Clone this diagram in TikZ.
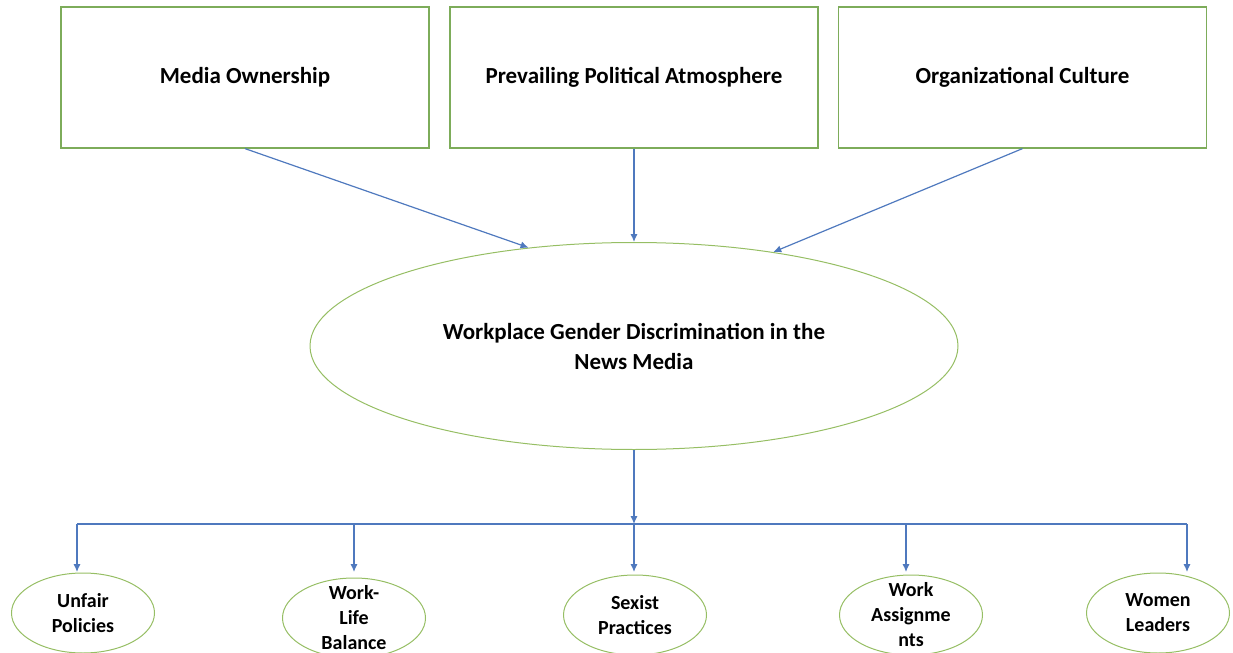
\documentclass[tikz,border=0pt]{standalone}
\usepackage{fontspec}
\setmainfont{Carlito}
\usetikzlibrary{shapes.geometric, arrows.meta}
\definecolor{boxgreen}{RGB}{125,172,90}
\definecolor{ovalgreen}{RGB}{150,190,100}
\definecolor{linkblue}{RGB}{79,121,190}
\tikzset{factor/.style={rectangle, draw=boxgreen, line width=.6pt,
minimum width=184pt, minimum height=70.5pt,
font=\bfseries\fontsize{11.5}{14}\selectfont}}
\tikzset{outcome/.style={ellipse, draw=ovalgreen, line width=.5pt,
minimum width=71.5pt, minimum height=40pt, inner sep=0pt}}
\tikzset{outtext/.style={align=center, font=\bfseries\fontsize{10}{12.5}\selectfont}}
\tikzset{link/.style={draw=linkblue, line width=.6pt, -{Latex[length=4pt, width=3.6pt]}}}
\tikzset{wire/.style={draw=linkblue, line width=.6pt}}

\begin{document}
\begin{tikzpicture}[x=.5pt, y=-.5pt]
\useasboundingbox (0,0) rectangle (1233,653);

\node [factor] (own) at (245, 77.5) {Media Ownership};
\node [factor] (pol) at (634, 77.5) {Prevailing Political Atmosphere};
\node [factor] (org) at (1022.5, 77.5) {Organizational Culture};

\node[ellipse,
draw=ovalgreen,
line width=.5pt,
minimum width=324pt,
minimum height=103.5pt,
align=center,
font=\bfseries\fontsize{11.5}{15}\selectfont] (wgd) at (634, 346) {Workplace Gender Discrimination in the\\News Media};

\draw [link] (own.south) -- (wgd.137);
\draw [link] (pol.south) -- (wgd.north);
\draw [link] (org.south) -- (wgd.34);

\node [outcome, label={[outtext]center:{Unfair\\Policies}}] (unf) at (83, 613) {};
\node [outcome, label={[outtext]center:{Work-\\Life\\Balance}}] (wlb) at (354, 618) {};
\node [outcome, label={[outtext]center:{Sexist\\Practices}}] (sex) at (635, 615) {};
\node [outcome, label={[outtext]center:{Work\\Assignme\\nts}}] (asg) at (911, 615) {};
\node [outcome, label={[outtext]center:{Women\\Leaders}}] (wom) at (1158, 613) {};

\coordinate (bus) at (634, 524);
\coordinate (b1) at (77, 524);
\coordinate (b2) at (354, 524);
\coordinate (b4) at (906, 524);
\coordinate (b5) at (1187, 524);

\draw [link] (wgd.south) -- (bus);
\draw [wire] (b1) -- (b5);

\draw [link] (b1) -- ++(0, 48);
\draw [link] (b2) -- ++(0, 48);
\draw [link] (bus) -- ++(0, 48);
\draw [link] (b4) -- ++(0, 48);
\draw [link] (b5) -- ++(0, 48);

\end{tikzpicture}
\end{document}
